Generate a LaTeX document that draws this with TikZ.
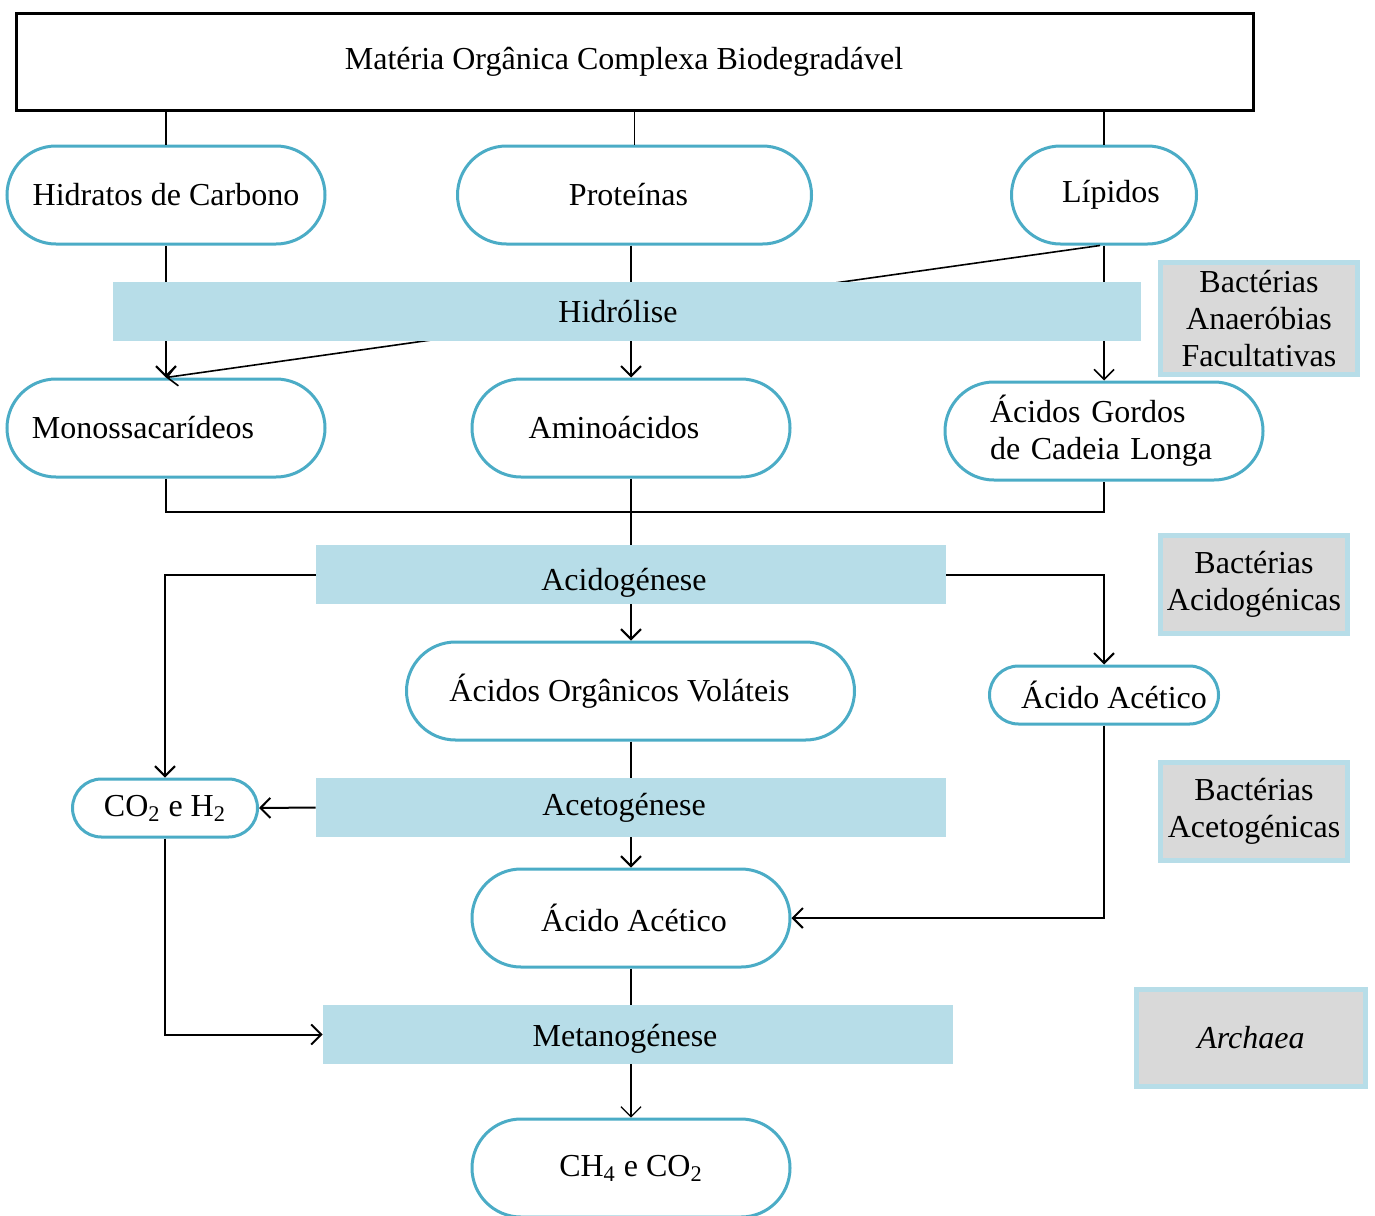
\documentclass[tikz,border=0pt]{standalone}
\usepackage{fontspec}
\setmainfont{Liberation Serif}
\usetikzlibrary{arrows.meta}
\definecolor{pillblue}{RGB}{75,172,198}
\definecolor{barblue}{RGB}{183,221,232}
\definecolor{agentgrey}{RGB}{217,217,217}
\pgfdeclarelayer{front}
\pgfsetlayers{main,front}

\begin{document}
\begin{tikzpicture}[x=0.5pt, y=-0.5pt, >={Straight Barb[length=5pt,width=10pt]},
    every node/.style={font=\fontsize{16}{18.5}\selectfont},
    pill/.style={draw=pillblue, line width=1.5pt, fill=white, rounded corners=24.5pt, minimum width=159pt, minimum height=49pt, inner sep=0pt},
    small pill/.style={pill, rounded corners=14.5pt, minimum height=29pt},
    stage/.style={fill=barblue, minimum width=315pt, minimum height=29.5pt, inner sep=0pt},
    agent/.style={draw=barblue, line width=2.5pt, fill=agentgrey, align=center, inner sep=0pt},
    link/.style={->, line width=1pt},
    thin link/.style={->, line width=0.6pt}]

    \useasboundingbox (0,0) rectangle (1375,1215);

    \node[draw, line width=1.5pt, minimum width=618.5pt, minimum height=48.5pt, inner sep=0pt] (top) at (635,62) {\hspace{-11pt}Matéria Orgânica Complexa Biodegradável};

    \node[pill] (hidratos) at (166,195) {Hidratos de Carbono};
    \node[pill, minimum width=177pt] (proteinas) at (634.5,195) {\hspace{-6pt}Proteínas};
    \node[pill, minimum width=92.5pt] (lipidos) at (1104,195) {\hspace{7pt}Lípidos};

    \node[pill, inner xsep=12.5pt, text width=134pt, align=left] (mono) at (166,428) {Monossacarídeos};
    \node[pill] (amino) at (631,428) {\hspace{-17pt}Aminoácidos};
    \node[pill, inner xsep=22.5pt, text width=114pt, align=left] (gordos) at (1104,431) {Ácidos Gordos\\de Cadeia Longa};

    \node[pill, minimum width=224pt] (aov) at (630.5,691) {\hspace{-11pt}Ácidos Orgânicos Voláteis};
    \node[small pill, minimum width=114.5pt] (aceticoR) at (1104,695) {\hspace{10pt}Ácido Acético};
    \node[small pill, minimum width=92.5pt] (co2) at (165,808) {CO\textsubscript{2} e H\textsubscript{2}};
    \node[pill] (acetico) at (631,918) {\hspace{3pt}Ácido Acético};
    \node[pill] (ch4) at (631,1168) {CH\textsubscript{4} e CO\textsubscript{2}};

    % fases
    \begin{pgfonlayer}{front}
    \node[stage, minimum width=514pt] (hidrolise) at (627,311.5) {\hspace{-9pt}Hidrólise};
    \node[stage] (acidogenese) at (631,574.5) {\hspace{-7pt}\raisebox{-4pt}[\height][\depth]{Acidogénese}};
    \node[stage] (acetogenese) at (631,807.5) {\hspace{-7pt}Acetogénese};
    \node[stage] (metanogenese) at (638,1034.5) {\hspace{-13pt}\raisebox{-2pt}[\height][\depth]{Metanogénese}};
    \end{pgfonlayer}

    % microrganismos
    \node[agent, minimum width=98.5pt, minimum height=56pt] (anaerobias) at (1259,318.5) {Bactérias\\Anaeróbias\\Facultativas};
    \node[agent, minimum width=93.5pt, minimum height=49pt] (acidogenicas) at (1254,584.5) {Bactérias\\Acidogénicas};
    \node[agent, minimum width=93.5pt, minimum height=49pt] (acetogenicas) at (1254,811.5) {Bactérias\\Acetogénicas};
    \node[agent, minimum width=114.5pt, minimum height=48.5pt] (archaea) at (1251,1038) {\textit{Archaea}};

    \coordinate (join) at (631,512);

    \draw[line width=0.8pt] (hidratos.north) -- (hidratos.north |- top.south);
    \draw[line width=0.8pt] (top.south -| proteinas.north) -- (proteinas.north);
    \draw[line width=0.8pt] (lipidos.north) -- (lipidos.north |- top.south);

    \draw[link] (hidratos.south) -- (mono.north);
    \draw[link, line width=0.8pt] ([xshift=-2pt]lipidos.south) -- (mono.north);
    \draw[link] (amino.north |- proteinas.south) -- (amino.north);
    \draw[link, line width=0.8pt] (lipidos.south) -- (gordos.north);

    \draw[line width=0.6pt] (mono.south) |- (join) -| (gordos.south);
    \draw[link] (amino.south) -- (amino.south |- aov.north);

    \draw[link] (acidogenese.west) -| (co2.north);
    \draw[link] (acidogenese.east) -| (aceticoR.north);
    \draw[link] (aov.south -| acetico.north) -- (acetico.north);
    \draw[link] (acetogenese.west) -- (co2.east);
    \draw[link] (co2.south) |- (metanogenese.west);
    \draw[link] (aceticoR.south) |- (acetico.east);
    \draw[thin link] (acetico.south) -- (ch4.north);

\end{tikzpicture}
\end{document}
